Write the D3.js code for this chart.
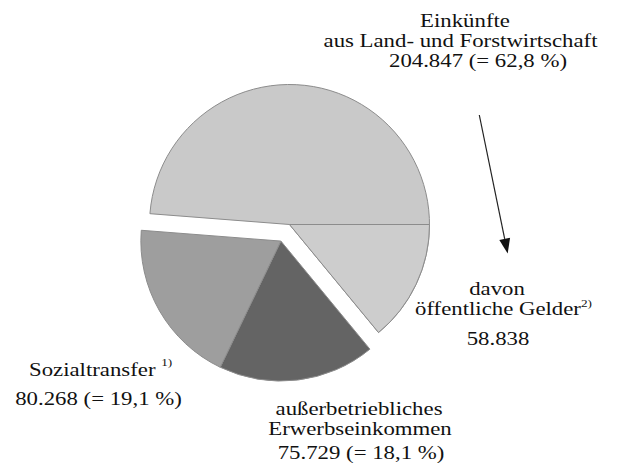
<!DOCTYPE html>
<html>
<head>
<meta charset="utf-8">
<script src="https://cdn.jsdelivr.net/npm/d3@7"></script>
<style>
  html, body { margin: 0; padding: 0; background: #fff; }
  svg { display: block; }
  text { font-family: "Liberation Serif", "Times New Roman", serif; fill: #111; }
</style>
</head>
<body>
<svg id="chart" width="618" height="472"></svg>
<script>
// Income sources of farm households (values in DM, percent shares of the total)
const categories = ["Einkünfte aus Land- und Forstwirtschaft", "außerbetriebliches Erwerbseinkommen", "Sozialtransfer"];
const amounts = [204847, 75729, 80268];
const shares = [62.8, 18.1, 19.1];
const exploded = [false, true, true];
// part of the farm income that consists of public payments
const subLabel = "davon öffentliche Gelder";
const subAmount = 58838;

const fills = ["#c9c9c9", "#646464", "#9e9e9e"];
const subFill = "#cdcdcd";

const W = 618, H = 472;
const cx = 289.5, cy = 224.5, R = 140, explode = 18.7;

const de = d3.formatLocale({ decimal: ",", thousands: ".", grouping: [3], currency: ["", " DM"] });
const fmtAmount = de.format(",d");
const fmtShare = de.format(".1f");

const svg = d3.select("#chart");

// share of the sub-slice, in the same units as the other labelled shares
const unitPerPercent = (amounts[1] + amounts[2]) / (shares[1] + shares[2]);
const subShare = subAmount / unitPerPercent;

const tau = 2 * Math.PI;
const landAngle = tau * shares[0] / 100;
const subAngle = tau * subShare / 100;
// the boundary of the public-payments part lies on the horizontal to the right
const start = Math.PI / 2 + subAngle - landAngle;

const pie = d3.pie().sort(null).value(d => d.share).startAngle(start).endAngle(start + tau);
const slices = pie(categories.map((c, i) => ({ name: c, share: shares[i], amount: amounts[i], fill: fills[i], exploded: exploded[i] })));

const arc = d3.arc().innerRadius(0).outerRadius(R);

// common explosion direction for the detached group
const exp = slices.filter(s => s.data.exploded);
const expMid = (exp[0].startAngle + exp[exp.length - 1].endAngle) / 2;
const ex = Math.sin(expMid) * explode, ey = -Math.cos(expMid) * explode;

const g = svg.append("g").attr("transform", `translate(${cx},${cy})`);

slices.forEach(s => {
  const off = s.data.exploded ? `translate(${ex},${ey})` : null;
  g.append("path")
    .attr("d", arc(s))
    .attr("transform", off)
    .attr("fill", s.data.fill)
    .attr("stroke", "#8c8c8c")
    .attr("stroke-width", 1)
    .attr("stroke-linejoin", "round");
});

// public payments drawn as a part of the farm-income slice
const land = slices[0];
g.append("path")
  .attr("d", arc({ startAngle: land.endAngle - subAngle, endAngle: land.endAngle }))
  .attr("fill", subFill)
  .attr("stroke", "#8c8c8c")
  .attr("stroke-width", 1);

// labels
const k = 1.2; // wide setting of the serif face
function line(x, y, str, anchor = "middle", size = 19) {
  return svg.append("text")
    .attr("transform", `translate(${x},${y}) scale(${k},1)`)
    .attr("text-anchor", anchor)
    .attr("font-size", size)
    .text(str);
}
function sup(t, str, dy = -8) {
  t.append("tspan").attr("font-size", 11).attr("dy", dy).text(str);
}

const pct = v => `(= ${fmtShare(v)} %)`;

line(465, 27, "Einkünfte");
line(460.5, 47, "aus Land- und Forstwirtschaft");
line(478, 67, `${fmtAmount(amounts[0])} ${pct(shares[0])}`);

line(497, 295, "davon");
const og = line(415, 315, "öffentliche Gelder", "start");
sup(og, "2)", -8);
line(498, 345, fmtAmount(subAmount));

const st = line(29, 376, "Sozialtransfer\u00a0", "start");
sup(st, "1)", -10);
line(98.5, 405, `${fmtAmount(amounts[2])} ${pct(shares[2])}`);

line(359, 415, "außerbetriebliches");
line(360, 435, "Erwerbseinkommen");
line(361, 459, `${fmtAmount(amounts[1])} ${pct(shares[1])}`);

// pointer from the farm-income label to the public-payments label
const a0 = [479.3, 115], a1 = [507.7, 253.5];
const ang = Math.atan2(a1[1] - a0[1], a1[0] - a0[0]);
const headL = 15, headW = 5.5;
const base = [a1[0] - headL * Math.cos(ang), a1[1] - headL * Math.sin(ang)];
svg.append("line")
  .attr("x1", a0[0]).attr("y1", a0[1]).attr("x2", base[0]).attr("y2", base[1])
  .attr("stroke", "#222").attr("stroke-width", 1.2);
svg.append("path")
  .attr("d", d3.line()([
    a1,
    [base[0] + headW * Math.sin(ang), base[1] - headW * Math.cos(ang)],
    [base[0] - headW * Math.sin(ang), base[1] + headW * Math.cos(ang)]
  ]) + "Z")
  .attr("fill", "#111");
</script>
</body>
</html>
